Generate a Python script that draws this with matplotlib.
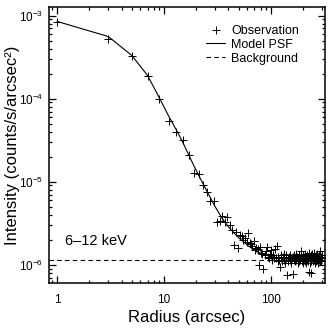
"""PSF radial profile, 6-12 keV"""

import matplotlib
matplotlib.use("Agg")
import matplotlib.pyplot as plt
from matplotlib.ticker import FuncFormatter, LogLocator, NullFormatter
import numpy as np

plt.rcParams['font.family'] = ['Liberation Sans', 'DejaVu Sans']
plt.rcParams['mathtext.fontset'] = 'custom'
plt.rcParams['mathtext.rm'] = 'Liberation Sans'
plt.rcParams['mathtext.default'] = 'regular'

# observed radial profile, 2 arcsec bins
obs_radius = np.arange(1, 300, 2)
obs_intensity = [
    8.3e-4, 5.2e-4, 3.3e-4, 1.87e-4, 9.9e-5,
    5.4e-5, 4.0e-5, 3.2e-5, 2.1e-5, 1.27e-5, 1.25e-5, 9.0e-6, 7.5e-6, 5.8e-6, 5.9e-6,
    3.3e-6, 3.4e-6, 3.9e-6, 3.3e-6, 3.8e-6, 3.0e-6, 2.6e-6, 1.73e-6, 2.45e-6, 1.57e-6,
    2.3e-6, 2.2e-6, 2.0e-6, 2.1e-6, 1.9e-6, 2.4e-6, 1.85e-6, 1.8e-6, 1.7e-6, 1.93e-6,
    1.5e-6, 1.6e-6, 1.55e-6, 1.0e-6, 1.65e-6, 1.4e-6, 1.35e-6, 9.0e-7, 1.3e-6, 1.46e-6,
    1.65e-6, 1.25e-6, 1.2e-6, 1.35e-6, 1.5e-6, 1.3e-6, 1.15e-6, 1.3e-6, 1.2e-6, 1.55e-6,
    1.2e-6, 1.7e-6, 1.1e-6, 1.25e-6, 1.15e-6, 9.3e-7, 1.2e-6, 1.3e-6, 1.1e-6, 1.25e-6,
    1.35e-6, 1.15e-6, 1.05e-6, 1.2e-6, 1.3e-6, 7.6e-7, 1.2e-6, 1.1e-6, 1.25e-6, 1.15e-6,
    1.3e-6, 1.2e-6, 1.05e-6, 1.2e-6, 7.7e-7, 1.25e-6, 1.15e-6, 1.3e-6, 1.1e-6, 1.2e-6,
    1.35e-6, 1.15e-6, 1.25e-6, 1.05e-6, 1.2e-6, 1.3e-6, 1.1e-6, 1.2e-6, 1.15e-6, 1.25e-6,
    1.45e-6, 1.1e-6, 1.2e-6, 1.3e-6, 1.05e-6, 1.2e-6, 1.15e-6, 1.25e-6, 1.1e-6, 1.35e-6,
    1.2e-6, 1.05e-6, 1.25e-6, 1.15e-6, 1.3e-6, 1.1e-6, 1.2e-6, 1.4e-6, 8.1e-7, 1.25e-6,
    1.05e-6, 1.2e-6, 1.3e-6, 1.1e-6, 7.9e-7, 1.2e-6, 1.35e-6, 1.15e-6, 1.25e-6, 1.1e-6,
    1.2e-6, 1.4e-6, 1.15e-6, 1.05e-6, 1.25e-6, 1.2e-6, 1.3e-6, 1.1e-6, 1.2e-6, 1.35e-6,
    1.15e-6, 1.25e-6, 1.05e-6, 1.2e-6, 1.3e-6, 1.15e-6, 1.25e-6, 1.1e-6, 1.2e-6, 1.45e-6,
    1.15e-6, 1.25e-6, 1.1e-6, 1.3e-6, 1.2e-6,
]

# model PSF
model_radius = [1, 3, 5, 7, 9, 11, 13, 15, 17, 19, 21, 25, 30, 35, 40, 50,
                60, 70, 80, 100, 120, 150, 200, 300]
model_intensity = [8.5e-4, 5.6e-4, 3.3e-4, 1.9e-4, 1.03e-4, 6.2e-5, 4.2e-5,
                   2.95e-5, 2.1e-5, 1.55e-5, 1.2e-5, 7.8e-6, 5.0e-6, 3.6e-6,
                   2.85e-6, 2.1e-6, 1.72e-6, 1.5e-6, 1.37e-6, 1.25e-6, 1.2e-6,
                   1.17e-6, 1.16e-6, 1.15e-6]

background = 1.13e-6
band_label = "6\u201312 keV"

fig = plt.figure(figsize=(3.32, 3.32), dpi=100)
ax = fig.add_axes([0.148, 0.148, 0.831, 0.831])

ax.plot(obs_radius, obs_intensity, linestyle='none', marker='+', color='black',
        markersize=6, markeredgewidth=0.7, label='Observation')
ax.plot(model_radius, model_intensity, color='black', lw=0.8, label='Model PSF')
ax.axhline(background, color='black', lw=0.8, linestyle=(0, (4, 3)),
           label='Background')

ax.set_xscale('log')
ax.set_yscale('log')
ax.set_xlim(0.84, 320)
ax.set_ylim(6.05e-7, 1.27e-3)

ax.xaxis.set_major_formatter(FuncFormatter(lambda v, p: '%g' % v))
ax.xaxis.set_minor_formatter(NullFormatter())
ax.yaxis.set_major_formatter(
    FuncFormatter(lambda v, p: r'$10^{%d}$' % int(round(np.log10(v)))))
ax.yaxis.set_minor_locator(LogLocator(base=10, subs=np.arange(2, 10)))
ax.yaxis.set_minor_formatter(NullFormatter())

ax.tick_params(which='both', direction='in', top=True, right=True,
               labelsize=8.5, width=0.9)
ax.tick_params(which='major', length=5)
ax.tick_params(which='minor', length=2.5)
ax.tick_params(axis='x', pad=8)
ax.tick_params(axis='y', pad=4)
for s in ax.spines.values():
    s.set_linewidth(1.1)

ax.set_xlabel('Radius (arcsec)', fontsize=12, labelpad=3)
ax.set_ylabel('Intensity (counts/s/arcsec\u00b2)', fontsize=12)
ax.yaxis.set_label_coords(-0.105, 0.5)

ax.text(0.058, 0.152, band_label, transform=ax.transAxes, fontsize=10.5,
        va='center', ha='left')

ax.legend(loc='upper left', bbox_to_anchor=(0.57, 0.935), frameon=False,
          fontsize=9, borderpad=0, handlelength=1.5, handletextpad=0.5,
          labelspacing=0.15, borderaxespad=0)

fig.savefig('out.png', dpi=100)
